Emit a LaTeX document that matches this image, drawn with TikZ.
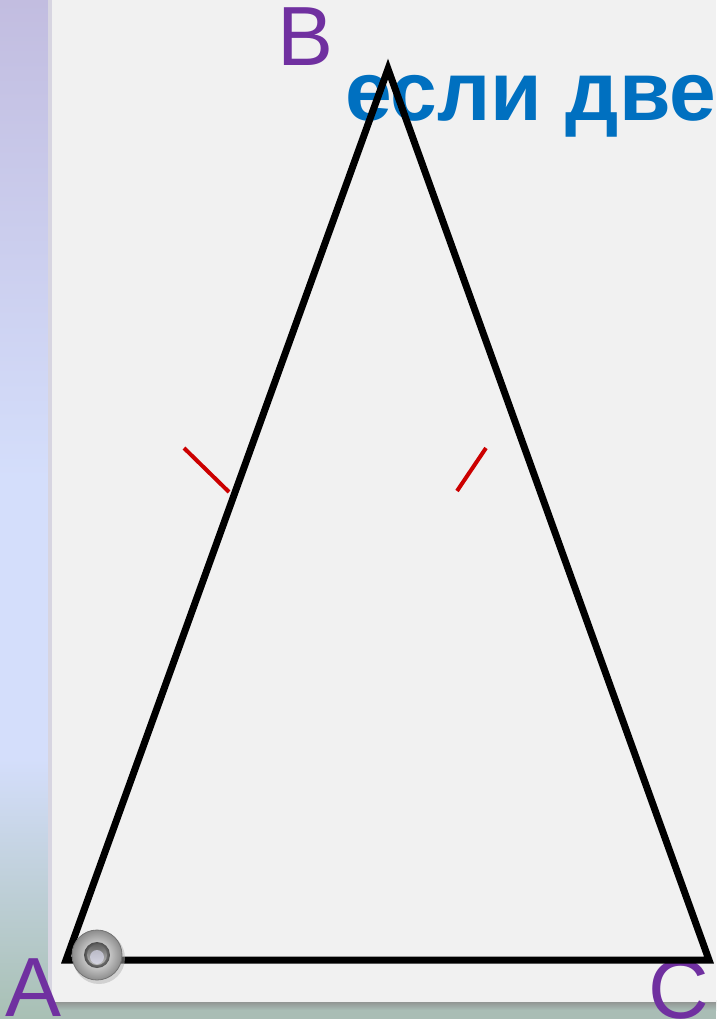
\documentclass[tikz,border=0pt]{standalone}
\usepackage{fontspec}
\setmainfont{Liberation Sans}
\usetikzlibrary{calc}
\begin{document}
\begin{tikzpicture}[x=1pt,y=-1pt,
  side/.style={line width=7pt, line join=miter, miter limit=20, draw=black},
  tick/.style={line width=4pt, draw=tickred},
  vlabel/.style={text=labpurple, font=\fontsize{84}{84}\selectfont, inner sep=0pt},
  caption/.style={text=capblue, font=\fontsize{84}{84}\selectfont\bfseries, inner sep=0pt}]
\definecolor{tickred}{HTML}{CC0000}
\definecolor{labpurple}{HTML}{7030A0}
\definecolor{capblue}{HTML}{0070C0}
\definecolor{stripA}{HTML}{C2BDE0}
\definecolor{stripB}{HTML}{D4DEFB}
\definecolor{stripC}{HTML}{A8C0B4}
\definecolor{paper}{HTML}{F1F1F1}
\definecolor{ground}{HTML}{A9BDB5}
\useasboundingbox (0,0) rectangle (716,1019);
\clip (0,0) rectangle (716,1019);
% background
\fill[ground] (0,0) rectangle (716,1019);
\shade[top color=stripA, bottom color=stripB] (0,0) rectangle (52,480);
\fill[stripB] (0,479) rectangle (52,760);
\shade[top color=stripB, bottom color=stripC] (0,759) rectangle (52,1019);
% paper shadow
\shade[top color=black!45, bottom color=ground] (50,1000) rectangle (716,1010);
\fill[stripA!80!black!40] (48,0) rectangle (53,1002);
\fill[paper] (52,0) rectangle (716,1002);
% caption and labels
\node[caption, anchor=base west] (cap) at (345,121) {если две};
\node[vlabel, anchor=base] (lB) at (306,66) {B};
\node[vlabel, anchor=base] (lA) at (34,1016) {A};
\node[vlabel, anchor=base] (lC) at (679,1018) {C};
% triangle
\coordinate (A) at (66,960);
\coordinate (B) at (388,69);
\coordinate (C) at (709,960);
\draw[side] (A) -- (B) -- (C) -- cycle;
% ticks
\coordinate (t1a) at (184,448);
\coordinate (t1b) at (229,492);
\coordinate (t2a) at (486,448);
\coordinate (t2b) at (457,491);
\draw[tick] (t1a) -- (t1b);
\draw[tick] (t2a) -- (t2b);
% grommet
\coordinate (g) at (97,955);
\fill[black!30, opacity=0.5] ($(g)+(2,3)$) circle (26);
\shade[inner color=white, outer color=black!45] (g) circle (25);
\draw[black!55, line width=0.8pt] (g) circle (25);
\shade[inner color=black!20, outer color=black!70] (g) circle (13);
\shade[top color=black!60, bottom color=black!25] (g) circle (10);
\fill[black!15!blue!10!white, opacity=0.6] (97,957) circle (7);
\end{tikzpicture}
\end{document}
